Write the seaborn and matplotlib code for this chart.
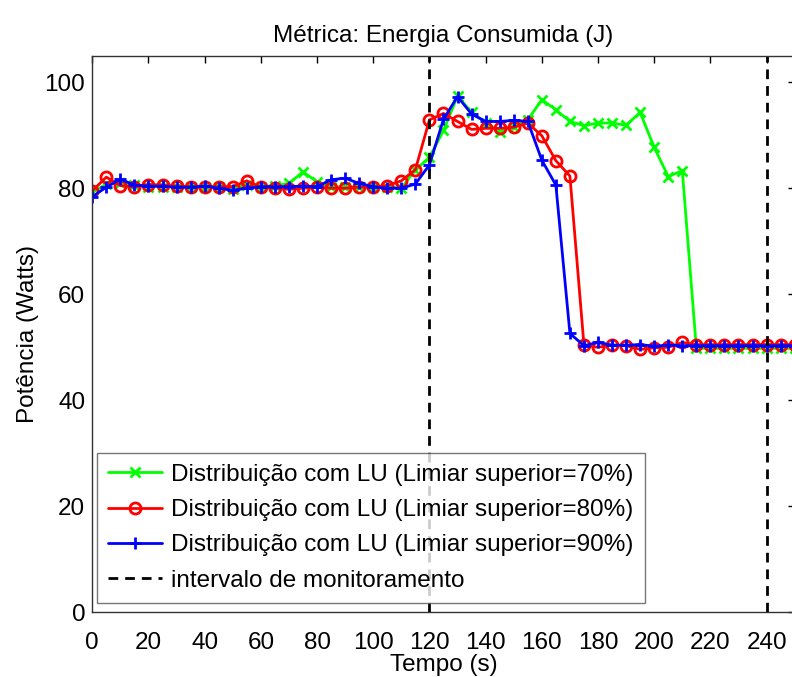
import matplotlib
matplotlib.use("Agg")
import matplotlib.pyplot as plt
import pandas as pd
import seaborn as sns

tempo = list(range(0, 255, 5))

limiar_70 = [79.2, 80.8, 81.0, 80.6, 80.3, 80.3, 80.3, 80.3, 80.3, 80.3,
             79.8, 80.7, 80.3, 80.5, 80.9, 83.1, 81.2, 80.3, 80.2, 80.3,
             80.2, 80.3, 80.0, 83.5, 85.8, 90.9, 97.4, 94.3, 92.4, 90.7,
             91.6, 92.9, 96.7, 94.8, 92.6, 91.8, 92.3, 92.3, 91.9, 94.3,
             87.7, 82.2, 83.3, 49.8, 49.8, 49.8, 49.8, 49.8, 49.8, 49.8, 49.8]

limiar_80 = [79.5, 82.1, 80.5, 80.2, 80.7, 80.6, 80.4, 80.3, 80.2, 80.3,
             80.3, 81.4, 80.2, 80.0, 79.8, 80.0, 80.2, 80.0, 80.0, 80.2,
             80.2, 80.5, 81.4, 83.5, 92.9, 94.1, 92.6, 91.1, 91.3, 91.3,
             91.5, 92.3, 89.9, 85.2, 82.3, 50.4, 50.0, 50.4, 50.3, 49.6,
             49.9, 50.0, 50.9, 50.5, 50.5, 50.5, 50.5, 50.5, 50.5, 50.5, 50.5]

limiar_90 = [78.4, 80.2, 81.7, 80.6, 80.4, 80.4, 80.2, 80.2, 80.4, 80.0,
             79.6, 80.0, 80.3, 80.3, 80.3, 80.4, 80.3, 81.6, 81.9, 80.9,
             80.3, 80.0, 80.0, 80.8, 84.4, 93.0, 97.3, 94.0, 92.6, 92.6,
             92.8, 92.6, 85.3, 80.6, 52.6, 50.3, 50.9, 50.4, 50.4, 50.5,
             50.2, 50.4, 50.3, 50.3, 50.3, 50.3, 50.3, 50.3, 50.3, 50.3, 50.3]

monitoramento = [120, 240]

series = [
    ("Distribuição com LU (Limiar superior=70%)", limiar_70, (0, 1, 0), "x"),
    ("Distribuição com LU (Limiar superior=80%)", limiar_80, (1, 0, 0), "o"),
    ("Distribuição com LU (Limiar superior=90%)", limiar_90, (0, 0, 1), "+"),
]

sns.set_theme(style="white")
plt.rcParams["font.family"] = ["Liberation Sans", "DejaVu Sans"]
plt.rcParams["font.size"] = 17.5
for key in ["text.color", "axes.labelcolor", "xtick.color", "ytick.color"]:
    plt.rcParams[key] = "black"

fig = plt.figure(figsize=(7.92, 6.77), dpi=100)
ax = fig.add_axes([0.1165, 0.0956, 0.8869, 0.8221])

for label, values, color, marker in series:
    df = pd.DataFrame({"tempo": tempo, "potencia": values})
    kw = dict(markersize=9, markeredgewidth=2, markeredgecolor=color)
    if marker == "o":
        kw["markerfacecolor"] = "none"
        kw["markersize"] = 8
    elif marker == "x":
        kw["markersize"] = 6.5
    sns.lineplot(data=df, x="tempo", y="potencia", color=color, marker=marker,
                 linewidth=2, label=label, ax=ax, **kw)

for i, x in enumerate(monitoramento):
    ax.axvline(x, color="black", linestyle=(0, (3.5, 2.5)), linewidth=2,
               label="intervalo de monitoramento" if i == 0 else None)

ax.set_xlim(0, 250)
ax.set_ylim(0, 105)
ax.set_xticks(range(0, 250, 20))
ax.set_yticks(range(0, 101, 20))
ax.tick_params(direction="in", length=5, width=1, color="black",
               top=True, right=True, labelsize=17.5)
ax.tick_params(axis="x", pad=14)
ax.tick_params(axis="y", pad=5)
for s in ax.spines.values():
    s.set_color("#333333")
    s.set_linewidth(1)

ax.set_xlabel("Tempo (s)", fontsize=17.5, labelpad=0)
ax.set_ylabel("Potência (Watts)", fontsize=17.5, labelpad=4)
ax.set_title("Métrica: Energia Consumida (J)", fontsize=17.5, pad=10)

leg = ax.legend(loc="lower left", bbox_to_anchor=(0.007, 0.017), fontsize=17.5,
                frameon=True, fancybox=False, handlelength=2.2,
                handletextpad=0.4, labelspacing=0.55, borderpad=0.45,
                borderaxespad=0)
leg.get_frame().set_edgecolor("#555555")
leg.get_frame().set_linewidth(1)

fig.savefig("out.png", dpi=100)
